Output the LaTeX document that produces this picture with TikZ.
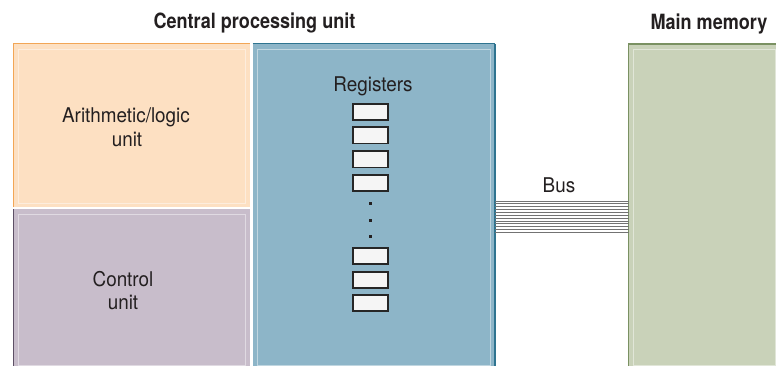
\documentclass[tikz,border=0pt]{standalone}
\usepackage{fontspec}
\setmainfont{TeX Gyre Heros}[FakeStretch=0.93]
\newfontfamily\titlefont{TeX Gyre Heros}[FakeStretch=0.86]
\definecolor{alufill}{HTML}{FDE0C2}
\definecolor{aluedge}{HTML}{F2A656}
\definecolor{cufill}{HTML}{C8BDCB}
\definecolor{cuedge}{HTML}{5E5066}
\definecolor{cpufill}{HTML}{8DB5C8}
\definecolor{cpuedge}{HTML}{2F7490}
\definecolor{memfill}{HTML}{C9D2B9}
\definecolor{memedge}{HTML}{7A9162}
\definecolor{txt}{HTML}{231F20}
\begin{document}
\begin{tikzpicture}[x=1pt,y=-1pt,
  panel/.style={draw=none,inner sep=0pt,outer sep=0pt,anchor=north west},
  inner/.style={draw=white,draw opacity=0.45,line width=0.9pt},
  lbl/.style={inner sep=0pt,anchor=base,text=txt,font=\fontsize{20.3}{24}\selectfont},
  ttl/.style={inner sep=0pt,anchor=base,text=txt,font=\titlefont\bfseries\fontsize{21}{25}\selectfont},
  reg/.style={draw=black!85,line width=1.8pt,fill=white!96!black,minimum width=35.2pt,minimum height=16.2pt,inner sep=0pt},
  dotsq/.style={fill=txt,minimum size=3pt,inner sep=0pt},
  busline/.style={draw=black!55,line width=0.9pt}]
\useasboundingbox (0,0) rectangle (776,366);
% panels
\node[panel,fill=alufill,minimum width=237pt,minimum height=163pt] (alu) at (13,44) {};
\node[panel,fill=cufill,minimum width=237pt,minimum height=159pt] (cu) at (13,209) {};
\node[panel,fill=cpufill,minimum width=242.5pt,minimum height=324pt] (cpu) at (252.5,44) {};
\node[panel,fill=memfill,minimum width=152pt,minimum height=324pt] (mem) at (628.5,44) {};
% inner light lines
\draw[inner] ([shift={(5,5)}]alu.north west) rectangle ([shift={(-5,-4)}]alu.south east);
\draw[inner] ([shift={(5,5)}]cu.north west) rectangle ([shift={(-5,-3)}]cu.south east);
\draw[inner] ([shift={(5,5)}]cpu.north west) rectangle ([shift={(-5,-3)}]cpu.south east);
\draw[inner] ([shift={(5,5)}]mem.north west) rectangle ([shift={(-5,-3)}]mem.south east);
% outer edges
\draw[aluedge,line width=1pt] (alu.south west) -- (alu.north west) -- (alu.north east);
\draw[cuedge,line width=1pt] (cu.south west) -- (cu.north west);
\draw[cpuedge,line width=1pt] (cpu.north west) -- (cpu.north east);
\draw[cpuedge,line width=1.6pt] (cpu.north east) -- (cpu.south east);
\draw[memedge,line width=1.2pt] (mem.south west) -- (mem.north west) -- (mem.north east);
% titles
\node[ttl] (tcpu) at (254.5,29) {Central processing unit};
\node[ttl] (tmem) at (709,30) {Main memory};
% labels
\node[lbl] (alu1) at (126,123) {Arithmetic/logic};
\node[lbl] (alu2) at (127,147) {unit};
\node[lbl] (cu1) at (123,286) {Control};
\node[lbl] (cu2) at (123,309) {unit};
\node[lbl] (regl) at (373,92) {Registers};
\node[lbl] (busl) at (559,193) {Bus};
% registers
\foreach \yy [count=\i] in {112,135.5,159.5,183,256,280,303}
  \node[reg] (r\i) at (370.5,\yy) {};
\foreach \yy [count=\i] in {204,220,236}
  \node[dotsq] (d\i) at (370,\yy) {};
% bus
\foreach \k in {0,...,11}
  \draw[busline] (cpu.east |- 0,{201+2.85*\k}) -- (mem.west |- 0,{201+2.85*\k});
\end{tikzpicture}
\end{document}
